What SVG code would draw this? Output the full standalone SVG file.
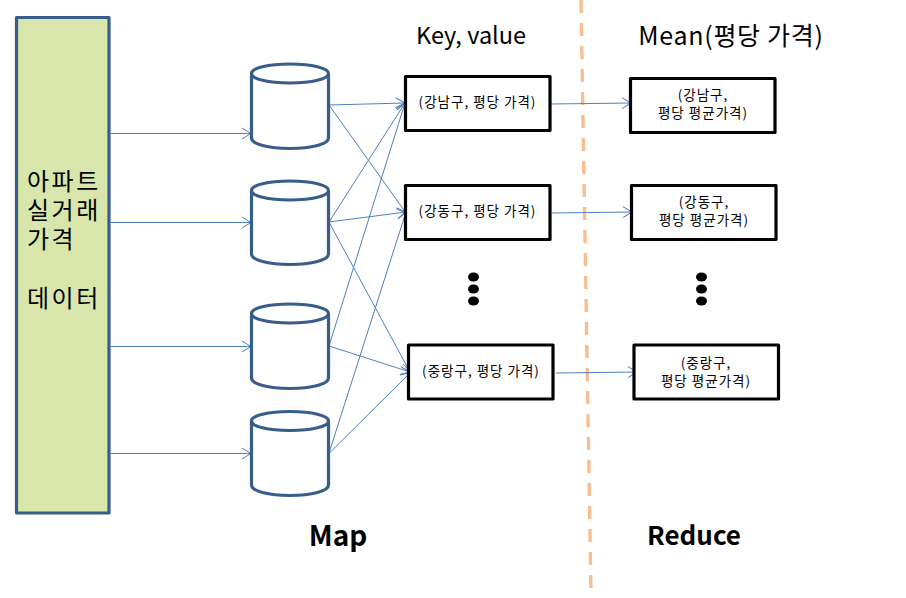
<svg xmlns="http://www.w3.org/2000/svg" width="906" height="598" viewBox="0 0 906 598">
<style>
text{font-family:"Noto Sans CJK KR","Noto Sans",sans-serif;fill:#000}
.cyl{fill:#fff;stroke:#385d8a;stroke-width:3.2}
.box{fill:#fff;stroke:#000;stroke-width:3.2;stroke-linejoin:round}
.small{font-size:13.5px;letter-spacing:1px;text-anchor:middle}
.big{font-size:24px;letter-spacing:2.5px}
.head{font-size:23.5px;text-anchor:middle}
.mean{font-size:25px;letter-spacing:.7px;text-anchor:middle}
.bold{font-size:26px;font-weight:700;text-anchor:middle}
.conn{fill:none;stroke:#4f81bd;stroke-width:1;marker-end:url(#arrow)}
</style>
<defs>
<marker id="arrow" markerUnits="userSpaceOnUse" markerWidth="12" markerHeight="14" refX="10" refY="6" orient="auto" overflow="visible">
<path d="M1 0.5L10 6L1 11.5" fill="none" stroke="#4f81bd" stroke-width="1"/>
</marker>
</defs>
<path d="M581 0L591 592" fill="none" stroke="#f9be8f" stroke-width="3.4" stroke-dasharray="13 10"/>
<g id="source">
<rect x="16.5" y="17.5" width="92.500" height="495.500" fill="#d8e6ab" stroke="#385d8a" stroke-width="3.2" stroke-linejoin="round"/>
<text class="big" x="27" y="190">아파트</text>
<text class="big" x="27" y="219">실거래</text>
<text class="big" x="27" y="248">가격</text>
<text class="big" x="27" y="307">데이터</text>
</g>
<g id="connectors">
<path class="conn" d="M110 133.500H251"/>
<path class="conn" d="M110 222.500H251"/>
<path class="conn" d="M110 346.500H251"/>
<path class="conn" d="M110 453.500H251"/>
<path class="conn" d="M329 105L405 103"/>
<path class="conn" d="M329 105L406 213"/>
<path class="conn" d="M329 222L405 103"/>
<path class="conn" d="M329 222L406 212"/>
<path class="conn" d="M329 222L410 372"/>
<path class="conn" d="M329 346L405 103"/>
<path class="conn" d="M329 346L410 372"/>
<path class="conn" d="M329 453L406 212"/>
<path class="conn" d="M329 453.500L410.500 372.500"/>
<path class="conn" d="M550 104L631 103"/>
<path class="conn" d="M552 213L632 212"/>
<path class="conn" d="M556 373L637 372"/>
</g>
<g id="cyl1"><path class="cyl" d="M251.500 73.500C251.500 68 268 64 290 64S328.500 68 328.500 73.500V138C328.500 144 312 148.500 290 148.500S251.500 144 251.500 138ZM251.500 73.500C251.500 79 268 83 290 83S328.500 79 328.500 73.500"/></g>
<g id="cyl2"><path class="cyl" d="M251.500 190.500C251.500 185 268 181 290 181S328.500 185 328.500 190.500V254C328.500 260 312 264.500 290 264.500S251.500 260 251.500 254ZM251.500 190.500C251.500 196 268 200 290 200S328.500 196 328.500 190.500"/></g>
<g id="cyl3"><path class="cyl" d="M251.500 313.500C251.500 308 268 304 290 304S328.500 308 328.500 313.500V378C328.500 384 312 388.500 290 388.500S251.500 384 251.500 378ZM251.500 313.500C251.500 319 268 323 290 323S328.500 319 328.500 313.500"/></g>
<g id="cyl4"><path class="cyl" d="M251.500 421C251.500 415.500 268 411.500 290 411.500S328.500 415.500 328.500 421V485C328.500 491 312 495.500 290 495.500S251.500 491 251.500 485ZM251.500 421C251.500 426.500 268 430.500 290 430.500S328.500 426.500 328.500 421"/></g>
<g id="key1"><rect class="box" x="405.500" y="76.500" width="144.500" height="54"/><text class="small" x="477.500" y="107">(강남구, 평당 가격)</text></g>
<g id="key2"><rect class="box" x="405.500" y="185.500" width="144.500" height="54"/><text class="small" x="477.500" y="216">(강동구, 평당 가격)</text></g>
<g id="key3"><rect class="box" x="408.500" y="345" width="144.500" height="54"/><text class="small" x="481" y="376">(중랑구, 평당 가격)</text></g>
<g id="mean1"><rect class="box" x="630.500" y="78.500" width="144.500" height="54"/><text class="small" x="703" y="100">(강남구,</text><text class="small" x="703" y="118">평당 평균가격)</text></g>
<g id="mean2"><rect class="box" x="631.500" y="185.500" width="144.500" height="54"/><text class="small" x="704" y="207">(강동구,</text><text class="small" x="704" y="225">평당 평균가격)</text></g>
<g id="mean3"><rect class="box" x="634" y="345" width="144.500" height="54"/><text class="small" x="706" y="368">(중랑구,</text><text class="small" x="706" y="386">평당 평균가격)</text></g>
<g id="dots1"><ellipse cx="473.500" cy="277" rx="5.500" ry="4.500"/><ellipse cx="473.500" cy="289" rx="5.500" ry="4.500"/><ellipse cx="473.500" cy="301" rx="5.500" ry="4.500"/></g>
<g id="dots2"><ellipse cx="701.500" cy="277" rx="5.500" ry="4.500"/><ellipse cx="701.500" cy="289" rx="5.500" ry="4.500"/><ellipse cx="701.500" cy="301" rx="5.500" ry="4.500"/></g>
<text class="head" x="471" y="44">Key, value</text>
<text class="mean" x="731" y="45">Mean(평당 가격)</text>
<text class="bold" x="338" y="546" style="font-size:28px">Map</text>
<text class="bold" x="694" y="545">Reduce</text>
</svg>
